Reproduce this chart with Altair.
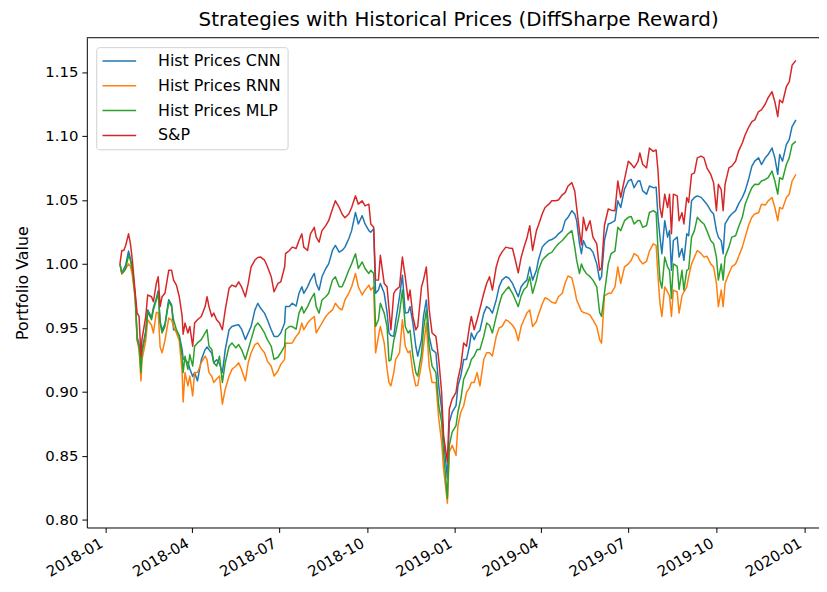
import altair as alt
import pandas as pd

# calendar-day offsets from 2018-01-01 of each observation
day_offsets = [
    15, 17, 19, 21, 24, 26, 28, 31, 33, 35,
    37, 38, 42, 44, 48, 50, 53, 55, 57, 59,
    62, 66, 69, 71, 74, 77, 80, 81, 83, 86,
    88, 91, 93, 96, 100, 104, 106, 108, 111, 113,
    116, 119, 122, 125, 129, 132, 136, 139, 142, 146,
    149, 152, 156, 159, 162, 166, 169, 173, 176, 180,
    183, 187, 188, 192, 195, 199, 202, 205, 207, 211,
    214, 218, 220, 223, 226, 230, 233, 237, 240, 244,
    247, 250, 254, 257, 261, 264, 268, 271, 275, 277,
    280, 282, 285, 287, 291, 294, 296, 298, 301, 303,
    307, 310, 313, 316, 318, 321, 324, 326, 330, 332,
    335, 338, 341, 345, 348, 351, 353, 357, 359, 362,
    366, 368, 371, 374, 377, 380, 382, 385, 388, 391,
    395, 398, 401, 404, 408, 411, 414, 418, 421, 425,
    428, 431, 434, 437, 440, 443, 446, 450, 452, 456,
    459, 463, 466, 470, 473, 477, 480, 483, 487, 490,
    492, 495, 497, 499, 502, 506, 509, 513, 516, 518,
    521, 525, 528, 532, 535, 538, 542, 546, 549, 552,
    556, 558, 561, 565, 568, 572, 575, 577, 579, 581,
    584, 587, 589, 591, 593, 597, 599, 602, 604, 607,
    609, 612, 615, 618, 622, 625, 628, 632, 635, 638,
    640, 643, 645, 647, 651, 654, 658, 661, 665, 668,
    672, 675, 678, 682, 685, 689, 692, 696, 699, 702,
    704, 707, 711, 714, 717, 721,
]

sp_values = [
    1.000, 1.0105, 1.0105, 1.0144, 1.0235, 1.0157, 1.0028, 0.977, 0.9615, 0.9589,
    0.9278, 0.9408, 0.9589, 0.9757, 0.9743, 0.9705, 0.9847, 0.9899, 0.9666, 0.9743,
    0.977, 0.995, 0.995, 0.9873, 0.9834, 0.9743, 0.9589, 0.945, 0.9537, 0.946,
    0.951, 0.9356, 0.9537, 0.9563, 0.9589, 0.9666, 0.9743, 0.9666, 0.9589, 0.9615,
    0.9563, 0.9537, 0.9485, 0.964, 0.9809, 0.9834, 0.9821, 0.986, 0.9821, 0.9743,
    0.9847, 0.9976, 1.003, 1.005, 1.0053, 1.003, 0.998, 0.990, 0.9782, 0.9847,
    0.986, 0.9976, 1.008, 1.0105, 1.0131, 1.012, 1.0183, 1.0235, 1.0131, 1.0105,
    1.0235, 1.0286, 1.0209, 1.017, 1.026, 1.0299, 1.0338, 1.0429, 1.0493, 1.0441,
    1.039, 1.036, 1.039, 1.0441, 1.0532, 1.0467, 1.0493, 1.0454, 1.0467, 1.0312,
    1.0286, 0.9873, 0.9873, 1.0067, 0.9847, 0.9821, 0.965, 0.9485, 0.977, 0.9795,
    0.9821, 1.0053, 0.9899, 0.9718, 0.9795, 0.9589, 0.9485, 0.951, 0.9821, 0.9873,
    0.9976, 0.964, 0.946, 0.9433, 0.925, 0.8995, 0.8658, 0.8452, 0.8865, 0.8943,
    0.8995, 0.9098, 0.9201, 0.9382, 0.9356, 0.951, 0.9589, 0.9485, 0.9563, 0.965,
    0.977, 0.9847, 0.9899, 0.9795, 0.9976, 1.0053, 1.0092, 1.0131, 1.0125, 1.012,
    1.0028, 0.993, 1.005, 1.013, 1.020, 1.0299, 1.0105, 1.026, 1.030, 1.039,
    1.0441, 1.0467, 1.0493, 1.0493, 1.050, 1.054, 1.0557, 1.0609, 1.0635, 1.057,
    1.044, 1.025, 1.015, 1.0364, 1.026, 1.0338, 1.0209, 1.0157, 0.995, 0.997,
    1.030, 1.0429, 1.042, 1.0416, 1.0648, 1.0519, 1.0661, 1.0803, 1.078, 1.0751,
    1.080, 1.0867, 1.0777, 1.0751, 1.0906, 1.088, 1.089, 1.0726, 1.044, 1.0364,
    1.0545, 1.044, 1.0545, 1.0235, 1.0545, 1.0532, 1.0338, 1.040, 1.0312, 1.0519,
    1.048, 1.070, 1.0712, 1.0829, 1.0842, 1.0829, 1.0751, 1.070, 1.0635, 1.0416,
    1.0622, 1.058, 1.0416, 1.0622, 1.0751, 1.0764, 1.0803, 1.088, 1.0945, 1.101,
    1.1074, 1.1113, 1.1126, 1.1191, 1.1204, 1.125, 1.130, 1.1346, 1.1268, 1.1152,
    1.1281, 1.126, 1.1385, 1.1423, 1.1553, 1.1591,
]

cnn_values = [
    1.000, 0.993, 0.996, 0.999, 1.010, 1.004, 0.996, 0.975, 0.943, 0.937,
    0.917, 0.932, 0.948, 0.964, 0.958, 0.966, 0.973, 0.979, 0.955, 0.948,
    0.953, 0.972, 0.968, 0.9485, 0.948, 0.944, 0.933, 0.926, 0.925, 0.9227,
    0.918, 0.912, 0.915, 0.9085, 0.925, 0.933, 0.935, 0.933, 0.930, 0.9227,
    0.925, 0.922, 0.915, 0.933, 0.9485, 0.951, 0.952, 0.9524, 0.949, 0.9408,
    0.946, 0.951, 0.964, 0.9692, 0.9653, 0.9615, 0.9563, 0.9485, 0.9433, 0.9433,
    0.946, 0.9537, 0.9666, 0.9666, 0.9692, 0.967, 0.977, 0.9821, 0.977, 0.9821,
    0.9873, 0.9925, 0.9847, 0.9795, 0.9899, 0.9964, 1.000, 1.0105, 1.0144, 1.0092,
    1.0105, 1.0131, 1.0196, 1.026, 1.0402, 1.0312, 1.0377, 1.0312, 1.026, 1.0248,
    1.0274, 0.977, 0.9795, 0.9847, 0.977, 0.962, 0.946, 0.944, 0.9433, 0.955,
    0.9743, 0.9912, 0.9615, 0.962, 0.9666, 0.9537, 0.9356, 0.9278, 0.9408, 0.9589,
    0.9718, 0.9433, 0.933, 0.9305, 0.9046, 0.8865, 0.8633, 0.8322, 0.8762, 0.884,
    0.8891, 0.9046, 0.9123, 0.9253, 0.9253, 0.9356, 0.946, 0.9408, 0.946, 0.948,
    0.9615, 0.9666, 0.965, 0.9615, 0.9718, 0.982, 0.9873, 0.9899, 0.989, 0.9847,
    0.9795, 0.9743, 0.9821, 0.985, 0.9873, 0.9976, 0.9873, 0.995, 1.0028, 1.0131,
    1.0157, 1.0183, 1.019, 1.0209, 1.0235, 1.026, 1.0338, 1.0364, 1.0416, 1.039,
    1.0338, 1.0157, 1.008, 1.0183, 1.0131, 1.012, 1.0092, 1.000, 0.9873, 0.990,
    1.0183, 1.0312, 1.032, 1.0338, 1.0493, 1.0441, 1.0584, 1.0648, 1.0661, 1.0596,
    1.0648, 1.065, 1.0571, 1.0545, 1.0609, 1.0596, 1.060, 1.0364, 1.0209, 1.008,
    1.0338, 1.0209, 1.026, 0.995, 1.0183, 1.0209, 1.0053, 1.012, 1.0028, 1.0235,
    1.022, 1.0493, 1.0519, 1.0532, 1.052, 1.0493, 1.0467, 1.0416, 1.039, 1.026,
    1.0209, 1.018, 1.008, 1.0312, 1.0364, 1.039, 1.0416, 1.0467, 1.0519, 1.0571,
    1.0674, 1.0764, 1.0803, 1.0829, 1.0777, 1.0829, 1.0855, 1.0906, 1.0829, 1.070,
    1.0855, 1.0803, 1.0932, 1.0971, 1.1074, 1.1126,
]

mlp_values = [
    1.000, 0.9925, 0.994, 0.9964, 1.0067, 1.0028, 0.995, 0.9743, 0.9408, 0.9356,
    0.915, 0.9305, 0.946, 0.9627, 0.9563, 0.964, 0.9718, 0.977, 0.9537, 0.946,
    0.9511, 0.9705, 0.9666, 0.9563, 0.9485, 0.9433, 0.9278, 0.915, 0.9278, 0.9175,
    0.9291, 0.9201, 0.9356, 0.9382, 0.9408, 0.946, 0.9485, 0.9356, 0.933, 0.9227,
    0.9201, 0.9278, 0.9072, 0.9227, 0.9356, 0.9382, 0.9343, 0.9369, 0.933, 0.9253,
    0.933, 0.9408, 0.951, 0.9537, 0.951, 0.946, 0.9408, 0.9356, 0.9253, 0.927,
    0.9305, 0.9356, 0.9485, 0.951, 0.951, 0.949, 0.9615, 0.9666, 0.9615, 0.9666,
    0.9718, 0.977, 0.9666, 0.9615, 0.9718, 0.9743, 0.977, 0.9873, 0.9899, 0.9821,
    0.9821, 0.9873, 0.995, 1.000, 1.008, 0.9964, 1.0015, 0.9964, 0.9925, 0.995,
    0.9925, 0.951, 0.9563, 0.9692, 0.9615, 0.951, 0.924, 0.925, 0.940, 0.946,
    0.9615, 0.9795, 0.951, 0.946, 0.948, 0.9278, 0.915, 0.9123, 0.930, 0.9485,
    0.964, 0.9356, 0.9201, 0.915, 0.8891, 0.8762, 0.853, 0.8167, 0.8581, 0.8685,
    0.8736, 0.884, 0.8943, 0.9098, 0.915, 0.920, 0.9253, 0.928, 0.933, 0.933,
    0.9433, 0.9537, 0.952, 0.946, 0.9589, 0.968, 0.9757, 0.9795, 0.9821, 0.977,
    0.9718, 0.9666, 0.975, 0.980, 0.9821, 0.9899, 0.977, 0.9873, 0.995, 1.0028,
    1.0053, 1.008, 1.009, 1.0131, 1.0157, 1.0183, 1.0209, 1.0235, 1.026, 1.0131,
    1.0028, 0.9925, 1.000, 0.996, 0.9925, 0.990, 0.9873, 0.9821, 0.962, 0.9589,
    0.977, 1.000, 1.008, 1.010, 1.0286, 1.026, 1.0338, 1.0364, 1.037, 1.0312,
    1.034, 1.034, 1.0286, 1.030, 1.0402, 1.0416, 1.040, 1.0105, 0.9873, 0.981,
    1.0053, 0.9976, 0.995, 0.973, 1.000, 0.998, 0.980, 0.995, 0.9795, 0.995,
    0.996, 1.0209, 1.026, 1.0364, 1.033, 1.0312, 1.026, 1.0183, 1.0157, 1.0053,
    0.9873, 1.000, 0.9873, 1.0053, 1.0131, 1.0209, 1.022, 1.0286, 1.0364, 1.0467,
    1.0545, 1.0596, 1.0622, 1.062, 1.0648, 1.066, 1.0674, 1.0726, 1.0648, 1.0545,
    1.0674, 1.066, 1.0777, 1.0829, 1.0932, 1.0958,
]

rnn_values = [
    1.000, 0.992, 0.994, 0.996, 1.000, 0.998, 0.991, 0.972, 0.940, 0.933,
    0.9085, 0.925, 0.940, 0.9563, 0.952, 0.946, 0.962, 0.962, 0.935, 0.9305,
    0.940, 0.9576, 0.956, 0.9511, 0.946, 0.940, 0.915, 0.892, 0.915, 0.9046,
    0.9123, 0.8968, 0.915, 0.915, 0.9227, 0.9278, 0.925, 0.915, 0.912, 0.9072,
    0.910, 0.9123, 0.8904, 0.902, 0.9123, 0.9175, 0.920, 0.9227, 0.9175, 0.9085,
    0.9227, 0.9305, 0.9369, 0.9382, 0.9343, 0.9305, 0.924, 0.920, 0.9123, 0.9162,
    0.9214, 0.9253, 0.9382, 0.938, 0.9382, 0.9433, 0.946, 0.9537, 0.9485, 0.9537,
    0.9563, 0.9589, 0.946, 0.950, 0.9537, 0.9589, 0.9615, 0.964, 0.9692, 0.9653,
    0.964, 0.9718, 0.977, 0.9821, 0.9925, 0.9821, 0.9757, 0.9795, 0.9834, 0.9795,
    0.9821, 0.9305, 0.9433, 0.951, 0.9382, 0.918, 0.9072, 0.9046, 0.915, 0.9253,
    0.9305, 0.9563, 0.9356, 0.9305, 0.932, 0.915, 0.9046, 0.905, 0.922, 0.935,
    0.9537, 0.920, 0.9072, 0.9072, 0.8788, 0.8607, 0.840, 0.8129, 0.853, 0.8581,
    0.8503, 0.8736, 0.884, 0.8891, 0.8995, 0.903, 0.9072, 0.9072, 0.915, 0.9046,
    0.9253, 0.9305, 0.9305, 0.928, 0.9433, 0.950, 0.951, 0.9563, 0.955, 0.952,
    0.9485, 0.940, 0.951, 0.9563, 0.9615, 0.964, 0.951, 0.955, 0.960, 0.9685,
    0.9735, 0.972, 0.970, 0.9692, 0.9743, 0.977, 0.985, 0.9905, 0.989, 0.9795,
    0.9718, 0.9666, 0.963, 0.962, 0.9615, 0.960, 0.9563, 0.951, 0.9408, 0.938,
    0.975, 0.977, 0.977, 0.9821, 0.9976, 0.9847, 0.9976, 1.000, 1.0028, 1.008,
    1.006, 1.0028, 1.000, 1.002, 1.010, 1.0157, 1.0144, 0.9899, 0.9692, 0.9589,
    0.982, 0.978, 0.975, 0.9589, 0.9795, 0.978, 0.9615, 0.975, 0.978, 0.9821,
    0.990, 1.000, 1.0053, 1.0105, 1.008, 1.0053, 1.006, 1.000, 0.9976, 0.9847,
    0.9666, 0.9795, 0.9666, 0.9847, 0.9925, 0.9976, 1.000, 1.0053, 1.0131, 1.0209,
    1.0312, 1.0364, 1.039, 1.040, 1.0467, 1.046, 1.0493, 1.0519, 1.0441, 1.0338,
    1.0441, 1.043, 1.0519, 1.0545, 1.0648, 1.070,
]

series_names = ["Hist Prices CNN", "Hist Prices RNN", "Hist Prices MLP", "S&P"]
series_colors = ["#1f77b4", "#ff7f0e", "#2ca02c", "#d62728"]
y_ticks = [0.80, 0.85, 0.90, 0.95, 1.00, 1.05, 1.10, 1.15]
x_tick_months = [(2018, 1), (2018, 4), (2018, 7), (2018, 10), (2019, 1),
                 (2019, 4), (2019, 7), (2019, 10), (2020, 1)]

start = pd.Timestamp("2018-01-01")
dates = [(start + pd.Timedelta(days=d)).strftime("%Y-%m-%dT%H:%M:%S") for d in day_offsets]
rows = []
for name, vals in zip(series_names, [cnn_values, rnn_values, mlp_values, sp_values]):
    for dt, v in zip(dates, vals):
        rows.append({"date": dt, "value": v, "series": name})
df = pd.DataFrame(rows)

FONT = "DejaVu Sans"

lines = alt.Chart(df).mark_line(strokeWidth=1.5, strokeJoin="round").encode(
    x=alt.X(
        "date:T",
        scale=alt.Scale(domain=[
            alt.DateTime(year=2017, month=12, date=12, hours=10, minutes=20),
            alt.DateTime(year=2020, month=1, date=16, hours=2, minutes=24),
        ]),
        axis=alt.Axis(
            values=[alt.DateTime(year=y, month=m, date=1) for y, m in x_tick_months],
            format="%Y-%m", labelAngle=330, labelAlign="right", labelBaseline="top",
            labelOffset=-8, labelPadding=3, tickSize=5, grid=False, title=None,
            labelFontSize=15,
        ),
    ),
    y=alt.Y(
        "value:Q",
        scale=alt.Scale(domain=[0.79388, 1.17682], nice=False, zero=False),
        axis=alt.Axis(
            values=y_ticks, format=".2f", grid=False, tickSize=5, labelPadding=4,
            labelFontSize=15, title="Portfolio Value", titleFontSize=16,
            titleFontWeight="normal", titleX=-65.3, titleY=247, titleAngle=270,
            titleBaseline="middle", titleAlign="center",
        ),
    ),
    color=alt.Color(
        "series:N",
        sort=series_names,
        scale=alt.Scale(domain=series_names, range=series_colors),
        legend=alt.Legend(
            title=None, orient="none", legendX=9.5, legendY=9.5,
            padding=6, symbolType="M-2.83,0H2.83", symbolSize=144,
            symbolStrokeWidth=1.5, symbolOffset=9.3, labelOffset=31,
            labelFontSize=16, labelFont=FONT, labelColor="black",
            rowPadding=9.0, strokeColor="#d0d0d0", cornerRadius=3,
            fillColor="white",
        ),
    ),
)

top_spine = alt.Chart(pd.DataFrame({"frame": [0]})).mark_rule(
    color="black", strokeWidth=1
).encode(y=alt.value(0))

chart = alt.layer(lines, top_spine).properties(
    width=738.5,
    height=494,
    title=alt.TitleParams(
        "Strategies with Historical Prices (DiffSharpe Reward)",
        fontSize=20, font=FONT, fontWeight="normal", color="black",
        anchor="middle", frame="group", offset=10, baseline="alphabetic",
        dx=5.75, dy=19,
    ),
    padding={"left": 79.5, "top": 27.5, "right": 0, "bottom": 55},
    autosize=alt.AutoSizeParams(type="none"),
).configure_axis(
    labelFont=FONT, titleFont=FONT, labelColor="black", titleColor="black",
    domainColor="black", tickColor="black", domainWidth=1, tickWidth=1,
).configure_view(strokeWidth=0)

chart.save("out.html", embed_options={"renderer": "svg", "actions": False})
